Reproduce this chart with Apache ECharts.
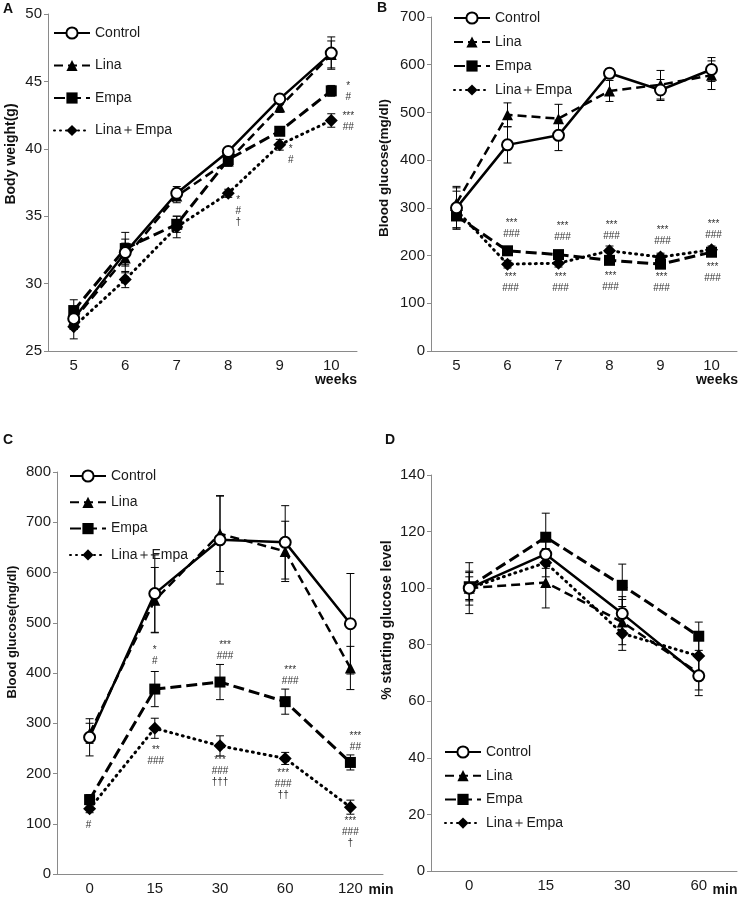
<!DOCTYPE html>
<html><head><meta charset="utf-8">
<script src="https://cdn.jsdelivr.net/npm/echarts@6/dist/echarts.min.js"></script>
<style>html,body{margin:0;padding:0;background:#fff}#c{width:740px;height:898px}</style>
</head><body><div id="c"></div>
<script>
const FONT = 'Liberation Sans, Arial, sans-serif';
const seriesNames = ['Control', 'Lina', 'Empa', 'Lina＋Empa'];

// ---- Panel A: body weight ----
const weeks = ['5', '6', '7', '8', '9', '10'];
const bwControl = [27.4, 32.3, 36.7, 39.8, 43.7, 47.1];
const bwControlErr = [0.8, 1.0, 0.5, 0.3, 0.3, 1.2];
const bwLina = [27.3, 31.9, 36.5, 39.1, 43.1, 47.0];
const bwLinaErr = [0.7, 1.1, 0.5, 0.4, 0.4, 1.0];
const bwEmpa = [28.0, 32.6, 34.4, 39.2, 41.3, 44.3];
const bwEmpaErr = [0.8, 1.2, 0.6, 0.3, 0.3, 0.4];
const bwLE = [26.8, 30.3, 34.2, 36.7, 40.3, 42.1];
const bwLEErr = [0.9, 0.6, 0.8, 0.3, 0.4, 0.5];
const annAIdx = [5, 5, 4, 3];
const annAY = [45.07, 42.8, 40.4, 36.6];
const annAText = ['*\n#', '***\n##', '*\n#', '*\n#\n†'];
const annADx = [17, 17, 11, 10];

// ---- Panel B: blood glucose by week ----
const bgControl = [300, 432, 452, 582, 547, 590];
const bgControlErr = [42, 38, 32, 10, 22, 25];
const bgLina = [310, 495, 487, 545, 558, 578];
const bgLinaErr = [35, 25, 30, 22, 30, 30];
const bgEmpa = [283, 210, 202, 190, 182, 207];
const bgEmpaErr = [25, 8, 8, 8, 8, 8];
const bgLE = [295, 182, 184, 210, 197, 212];
const bgLEErr = [40, 8, 8, 10, 8, 8];
const annBIdx = [1, 2, 3, 4, 5, 1, 2, 3, 4, 5];
const annBY = [279, 273, 275, 264, 277, 166, 166, 168, 166, 187];
const annBText = ['***\n###', '***\n###', '***\n###', '***\n###', '***\n###', '***\n###', '***\n###', '***\n###', '***\n###', '***\n###'];
const annBDx = [4, 4, 2, 2, 2, 3, 2, 1, 1, 1];

// ---- Panel C: glucose tolerance ----
const minutesC = ['0', '15', '30', '60', '120'];
const gtControl = [272, 558, 665, 660, 498];
const gtControlErr = [37, 77, 88, 73, 100];
const gtLina = [280, 545, 677, 642, 410];
const gtLinaErr = [20, 65, 75, 60, 43];
const gtEmpa = [148, 368, 382, 343, 222];
const gtEmpaErr = [10, 35, 35, 25, 15];
const gtLE = [130, 290, 255, 230, 133];
const gtLEErr = [8, 20, 20, 12, 14];
const annCIdx = [1, 1, 2, 2, 3, 3, 4, 4, 0];
const annCY = [456, 257, 466, 237, 416, 211, 285, 116, 108];
const annCText = ['*\n#', '**\n###', '***\n###', '***\n###\n†††', '***\n###', '***\n###\n††', '***\n##', '***\n###\n†', '#'];
const annCDx = [0, 1, 5, 0, 5, -2, 5, 0, -1];

// ---- Panel D: insulin tolerance (% starting glucose) ----
const minutesD = ['0', '15', '30', '60'];
const itControl = [100, 112, 91, 69];
const itControlErr = [6, 5, 6, 7];
const itLina = [100, 102, 88, 70];
const itLinaErr = [9, 9, 8, 6];
const itEmpa = [100.5, 118, 101, 83];
const itEmpaErr = [5, 8.5, 7.5, 5];
const itLE = [100, 109, 84, 76];
const itLEErr = [4, 5, 6, 6];

const styles = {
  'Control': {symbol: 'circle', symbolSize: 11, itemStyle: {color: '#fff', borderColor: '#000', borderWidth: 2}, lineStyle: {color: '#000', width: 2.5, type: 'solid'}, z: 6},
  'Lina': {symbol: 'triangle', symbolSize: 11, itemStyle: {color: '#000'}, lineStyle: {color: '#000', width: 2.5, type: [9, 5]}, z: 5},
  'Empa': {symbol: 'rect', symbolSize: 11, itemStyle: {color: '#000'}, lineStyle: {color: '#000', width: 3, type: [11, 5]}, z: 4},
  'Lina＋Empa': {symbol: 'diamond', symbolSize: 13, itemStyle: {color: '#000'}, lineStyle: {color: '#000', width: 3, type: [1, 5], cap: 'round'}, z: 3}
};

function lineSeries(g, name, vals) {
  const s = styles[name];
  return Object.assign({type: 'line', name: name, xAxisIndex: g, yAxisIndex: g, data: vals,
    showSymbol: true, animation: false, emphasis: {disabled: true}}, JSON.parse(JSON.stringify(s)));
}
function errSeries(g, vals, errs) {
  return {type: 'custom', xAxisIndex: g, yAxisIndex: g, silent: true, z: 2, animation: false,
    data: vals.map((v, i) => [i, v, errs[i]]),
    renderItem(params, api) {
      const i = api.value(0), v = api.value(1), e = api.value(2);
      const t = api.coord([i, v + e]), b = api.coord([i, v - e]);
      const w = 4, st = {stroke: '#000', lineWidth: 1};
      return {type: 'group', children: [
        {type: 'line', shape: {x1: t[0], y1: t[1], x2: b[0], y2: b[1]}, style: st},
        {type: 'line', shape: {x1: t[0] - w, y1: t[1], x2: t[0] + w, y2: t[1]}, style: st},
        {type: 'line', shape: {x1: b[0] - w, y1: b[1], x2: b[0] + w, y2: b[1]}, style: st}
      ]};
    }};
}
function annSeries(g, idx, ys, texts, dxs) {
  return {type: 'custom', xAxisIndex: g, yAxisIndex: g, silent: true, z: 8, animation: false,
    data: idx.map((i, k) => [i, ys[k]]),
    renderItem(params, api) {
      const k = params.dataIndex;
      const p = api.coord([api.value(0), api.value(1)]);
      return {type: 'text', x: p[0] + dxs[k], y: p[1],
        style: {text: texts[k], fill: '#333', fontSize: 10, fontFamily: FONT, align: 'center', verticalAlign: 'top', lineHeight: 11}};
    }};
}

const axisGrey = '#8a8a8a';
function xAx(g, cats) {
  return {type: 'category', gridIndex: g, data: cats, boundaryGap: true,
    axisLine: {lineStyle: {color: axisGrey, width: 1}},
    axisTick: {length: 5, lineStyle: {color: axisGrey}},
    axisLabel: {color: '#1a1a1a', fontSize: 15, fontFamily: FONT, margin: 7}};
}
function yAx(g, min, max, interval) {
  return {type: 'value', gridIndex: g, min: min, max: max, interval: interval,
    splitLine: {show: false},
    axisLine: {show: true, lineStyle: {color: axisGrey, width: 1}},
    axisTick: {show: true, length: 4, lineStyle: {color: axisGrey}},
    axisLabel: {color: '#1a1a1a', fontSize: 15, fontFamily: FONT, margin: 6}};
}
function legendAt(left, top, gap) {
  return {orient: 'vertical', left: left, top: top, padding: 0, itemGap: gap, itemWidth: 36, itemHeight: 14,
    selectedMode: false, data: seriesNames,
    textStyle: {fontSize: 14, color: '#1a1a1a', fontFamily: FONT}};
}

const series = [];
const panels = [
  {g: 0, vals: [bwControl, bwLina, bwEmpa, bwLE], errs: [bwControlErr, bwLinaErr, bwEmpaErr, bwLEErr]},
  {g: 1, vals: [bgControl, bgLina, bgEmpa, bgLE], errs: [bgControlErr, bgLinaErr, bgEmpaErr, bgLEErr]},
  {g: 2, vals: [gtControl, gtLina, gtEmpa, gtLE], errs: [gtControlErr, gtLinaErr, gtEmpaErr, gtLEErr]},
  {g: 3, vals: [itControl, itLina, itEmpa, itLE], errs: [itControlErr, itLinaErr, itEmpaErr, itLEErr]}
];
panels.forEach(p => {
  for (let k = 3; k >= 0; k--) {
    series.push(errSeries(p.g, p.vals[k], p.errs[k]));
  }
  for (let k = 3; k >= 0; k--) {
    series.push(lineSeries(p.g, seriesNames[k], p.vals[k]));
  }
});
series.push(annSeries(0, annAIdx, annAY, annAText, annADx));
series.push(annSeries(1, annBIdx, annBY, annBText, annBDx));
series.push(annSeries(2, annCIdx, annCY, annCText, annCDx));

function gText(x, y, text, font, rot, align) {
  return {type: 'text', x: x, y: y, rotation: rot || 0, silent: true,
    style: {text: text, font: font, fill: '#111', align: align || 'center', verticalAlign: 'middle'}};
}
const bold = s => 'bold ' + s + 'px ' + FONT;

const option = {
  backgroundColor: '#fff',
  animation: false,
  textStyle: {fontFamily: FONT},
  grid: [
    {left: 48, right: 740 - 357, top: 14, bottom: 898 - 351, containLabel: false},
    {left: 431, right: 3, top: 17, bottom: 898 - 351, containLabel: false},
    {left: 57, right: 740 - 383, top: 472, bottom: 898 - 874, containLabel: false},
    {left: 431, right: 3, top: 475, bottom: 898 - 871, containLabel: false}
  ],
  xAxis: [xAx(0, weeks), xAx(1, weeks), xAx(2, minutesC), xAx(3, minutesD)],
  yAxis: [yAx(0, 25, 50, 5), yAx(1, 0, 700, 100), yAx(2, 0, 800, 100), yAx(3, 0, 140, 20)],
  legend: [legendAt(53, 26, 18.5), legendAt(453, 11, 10), legendAt(69, 469, 12.3), legendAt(444, 745, 9.7)],
  graphic: [
    gText(8, 9, 'A', bold(14)), gText(382, 8, 'B', bold(14)),
    gText(8, 440, 'C', bold(14)), gText(390, 440, 'D', bold(14)),
    gText(11, 154, 'Body weight(g)', bold(14), Math.PI / 2),
    gText(384, 168, 'Blood glucose(mg/dl)', bold(13.5), Math.PI / 2),
    gText(12, 632, 'Blood glucose(mg/dl)', bold(13), Math.PI / 2),
    gText(387, 620, '% starting glucose level', bold(14), Math.PI / 2),
    gText(357, 380, 'weeks', bold(14), 0, 'right'),
    gText(738, 380, 'weeks', bold(14), 0, 'right'),
    gText(381, 890, 'min', bold(14)),
    gText(725, 890, 'min', bold(14))
  ],
  series: series
};
const chart = echarts.init(document.getElementById('c'), null, {renderer: 'canvas'});
chart.setOption(option);
</script>
</body></html>
